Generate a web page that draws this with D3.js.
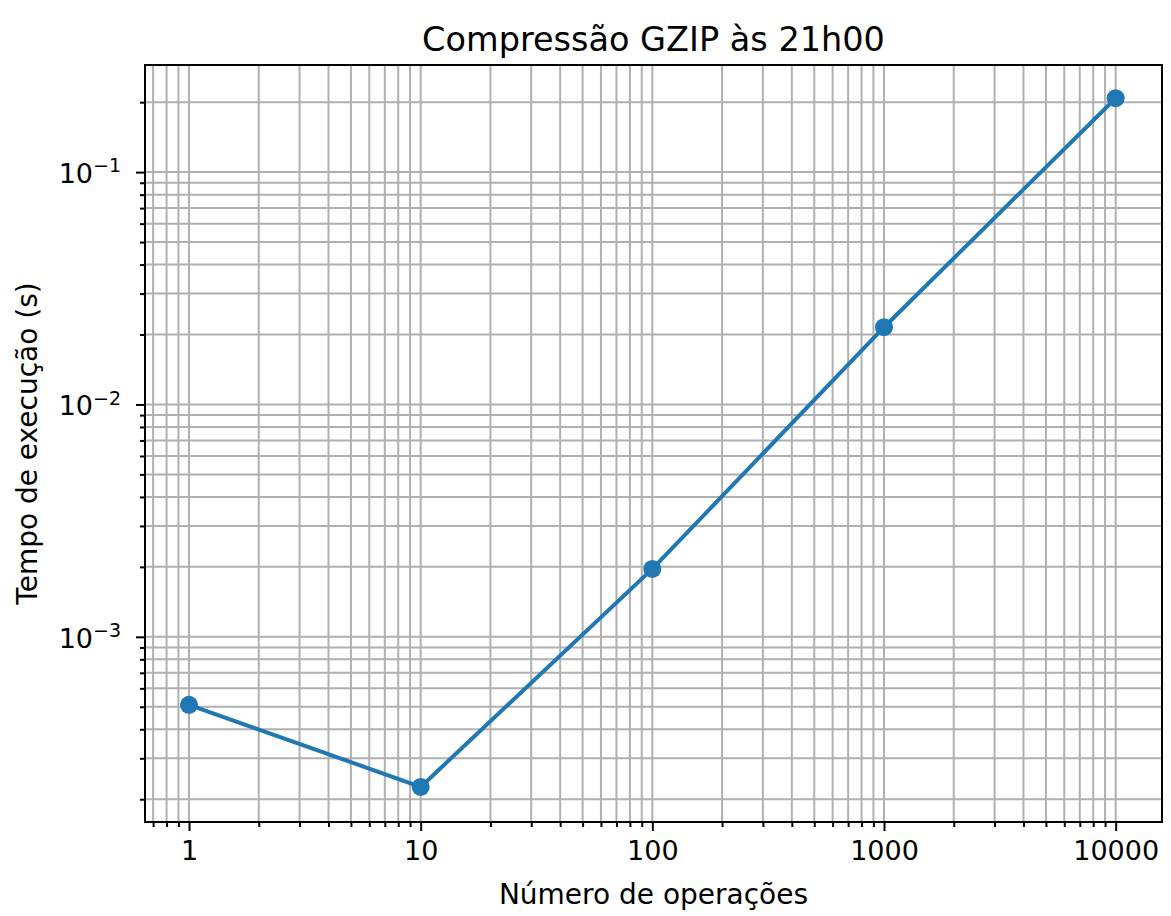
<!DOCTYPE html>
<html>
<head>
<meta charset="utf-8">
<script src="https://cdn.jsdelivr.net/npm/d3@7"></script>
<style>
  body { margin: 0; background: #fff; }
  text { font-family: "DejaVu Sans", sans-serif; fill: #000; }
</style>
</head>
<body>
<div id="chart"></div>
<script>
var operacoes = [1, 10, 100, 1000, 10000];
var tempos = [0.00051, 0.000226, 0.00196, 0.0215, 0.208];
var xTicks = [1, 10, 100, 1000, 10000];
var yTicks = [1e-3, 1e-2, 1e-1];
var yTickExp = ["\u22123", "\u22122", "\u22121"];

var W = 1171, H = 916;
var margin = {left: 145, right: 9, top: 65, bottom: 94};
var pw = W - margin.left - margin.right;
var ph = H - margin.top - margin.bottom;

var svg = d3.select("#chart").append("svg")
    .attr("width", W).attr("height", H);

var x = d3.scaleLog().domain([Math.pow(10, -0.19), Math.pow(10, 4.2)]).range([0, pw]);
var y = d3.scaleLog().domain([Math.pow(10, -3.797), Math.pow(10, -0.539)]).range([ph, 0]);

var g = svg.append("g").attr("transform", "translate(" + margin.left + "," + margin.top + ")");

// minor ticks between decades
function minors(scale) {
    var d = scale.domain(), out = [];
    for (var e = Math.floor(Math.log10(d[0])); e <= Math.ceil(Math.log10(d[1])); e++) {
        for (var k = 2; k <= 9; k++) {
            var v = k * Math.pow(10, e);
            if (v >= d[0] && v <= d[1]) out.push(v);
        }
    }
    return out;
}
var xMinor = minors(x), yMinor = minors(y);

// grid
g.append("g").selectAll("line").data(xMinor.concat(xTicks)).enter().append("line")
    .attr("x1", function(d) { return x(d); }).attr("x2", function(d) { return x(d); })
    .attr("y1", 0).attr("y2", ph)
    .attr("stroke", "#b0b0b0").attr("stroke-width", 2);
g.append("g").selectAll("line").data(yMinor.concat(yTicks)).enter().append("line")
    .attr("y1", function(d) { return y(d); }).attr("y2", function(d) { return y(d); })
    .attr("x1", 0).attr("x2", pw)
    .attr("stroke", "#b0b0b0").attr("stroke-width", 2);

// axes
var xAxis = g.append("g").attr("transform", "translate(0," + ph + ")")
    .call(d3.axisBottom(x).tickValues(xTicks).tickFormat(d3.format("d")).tickSize(9).tickPadding(10));
var xAxisMinor = g.append("g").attr("transform", "translate(0," + ph + ")")
    .call(d3.axisBottom(x).tickValues(xMinor).tickFormat("").tickSize(5));
var yAxis = g.append("g")
    .call(d3.axisLeft(y).tickValues(yTicks).tickFormat("").tickSize(9));
var yAxisMinor = g.append("g")
    .call(d3.axisLeft(y).tickValues(yMinor).tickFormat("").tickSize(5));

[xAxis, xAxisMinor, yAxis, yAxisMinor].forEach(function(a) {
    a.select(".domain").remove();
    a.selectAll(".tick line").attr("stroke", "#000").attr("stroke-width", 2);
});
xAxis.selectAll(".tick text").attr("font-size", 27).attr("font-family", "DejaVu Sans").attr("fill", "#000");

// y tick labels with superscript
yAxis.selectAll(".tick").each(function(d, i) {
    var t = d3.select(this).append("text")
        .attr("x", -24).attr("dy", "0.38em")
        .attr("text-anchor", "end").attr("font-size", 27);
    t.append("tspan").text("10");
    t.append("tspan").attr("dy", "-0.55em").attr("font-size", 19).text(yTickExp[i]);
});

// spines
g.append("rect").attr("width", pw).attr("height", ph)
    .attr("fill", "none").attr("stroke", "#000").attr("stroke-width", 2);

// series
var line = d3.line()
    .x(function(d, i) { return x(operacoes[i]); })
    .y(function(d) { return y(d); });
g.append("path").datum(tempos).attr("d", line)
    .attr("fill", "none").attr("stroke", "#1f77b4").attr("stroke-width", 4);
g.selectAll("circle.pt").data(tempos).enter().append("circle").attr("class", "pt")
    .attr("cx", function(d, i) { return x(operacoes[i]); })
    .attr("cy", function(d) { return y(d); })
    .attr("r", 9).attr("fill", "#1f77b4");

// labels
svg.append("text").attr("x", margin.left + pw / 2).attr("y", 51)
    .attr("text-anchor", "middle").attr("font-size", 33.5).text("Compressão GZIP às 21h00");
svg.append("text").attr("x", margin.left + pw / 2).attr("y", 904)
    .attr("text-anchor", "middle").attr("font-size", 28).text("Número de operações");
svg.append("text").attr("transform", "translate(37," + (margin.top + ph / 2) + ") rotate(-90)")
    .attr("text-anchor", "middle").attr("font-size", 28).text("Tempo de execução (s)");
</script>
</body>
</html>
